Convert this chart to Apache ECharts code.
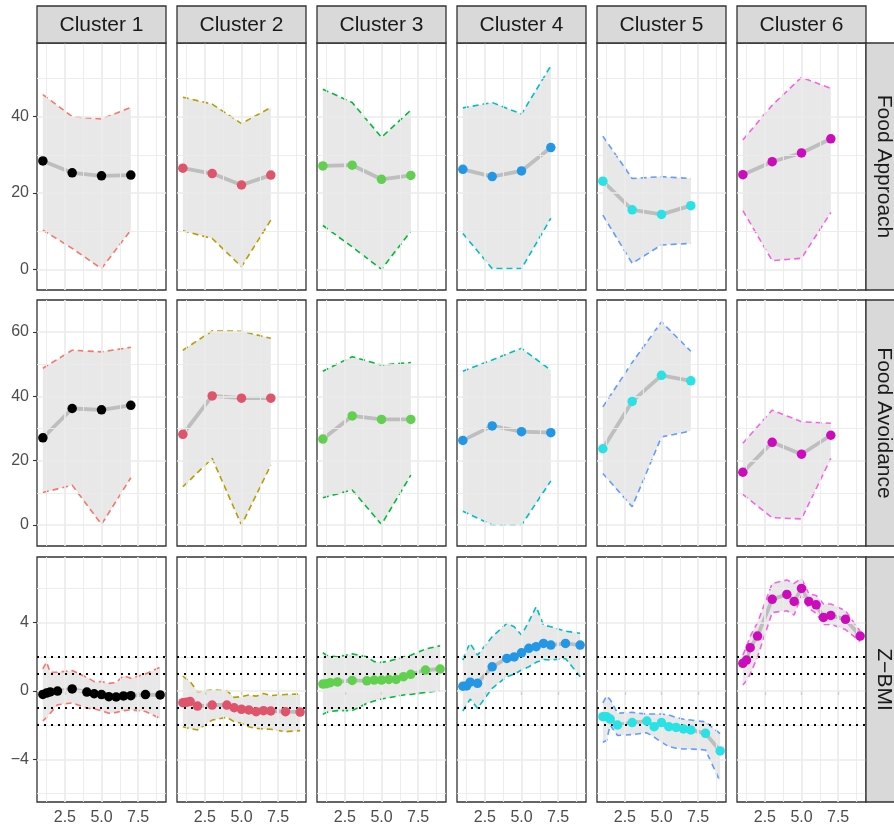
<!DOCTYPE html>
<html>
<head>
<meta charset="utf-8">
<script src="https://cdn.jsdelivr.net/npm/echarts@6/dist/echarts.min.js"></script>
<style>
html,body{margin:0;padding:0;background:#fff;}
#chart{width:894px;height:829px;}
</style>
</head>
<body>
<div id="chart"></div>
<script>
// ---------- data ----------
const clusters = ['Cluster 1','Cluster 2','Cluster 3','Cluster 4','Cluster 5','Cluster 6'];
const rowNames = ['Food Approach','Food Avoidance','Z\u2212BMI'];
const xWave = [1,3,5,7];
const xBmi = [1,1.25,1.5,2,3,4,4.5,5,5.5,6,6.5,7,8,9];

const faMean  = [[28.4,25.3,24.5,24.7],[26.5,25.1,22.1,24.7],[27.1,27.3,23.6,24.6],[26.2,24.3,25.8,31.9],[23.1,15.6,14.4,16.7],[24.8,28.2,30.5,34.2]];
const faUpper = [[45.8,40.0,39.4,42.4],[45.1,43.3,38.2,42.4],[47.2,43.7,34.6,41.7],[42.3,43.7,40.7,53.3],[34.9,23.8,24.3,23.8],[33.9,43.0,50.3,47.4]];
const faLower = [[10.3,5.5,0.2,10.3],[10.1,8.1,0.7,12.9],[11.5,5.9,0.0,10.0],[9.4,0.2,0.2,13.4],[14.2,1.6,6.4,6.8],[15.4,2.3,2.9,14.9]];

const favMean  = [[27.1,36.2,35.8,37.2],[28.2,40.1,39.4,39.4],[26.7,33.9,32.8,32.8],[26.3,30.8,29.0,28.7],[23.7,38.4,46.5,44.8],[16.4,25.7,22.0,27.9]];
const favUpper = [[48.7,54.3,53.8,55.2],[54.3,60.3,60.2,58.0],[47.8,52.3,49.7,50.5],[47.8,51.3,54.9,48.1],[36.7,50.5,63.1,54.0],[25.4,35.7,32.1,31.6]];
const favLower = [[10.1,12.4,0.2,14.7],[11.9,20.7,0,18.6],[8.5,10.9,0.2,15.5],[4.3,0,0,13.7],[16.0,5.7,27.4,29.2],[9.5,2.3,1.9,20.7]];

const bmiMean = [
  [-0.2,-0.12,-0.05,0.0,0.12,-0.06,-0.16,-0.21,-0.33,-0.35,-0.29,-0.27,-0.21,-0.23],
  [-0.68,-0.66,-0.62,-0.88,-0.82,-0.82,-0.98,-1.07,-1.11,-1.21,-1.15,-1.17,-1.21,-1.23],
  [0.41,0.43,0.49,0.53,0.62,0.6,0.64,0.64,0.68,0.68,0.84,0.98,1.23,1.29],
  [0.28,0.3,0.52,0.45,1.42,1.91,2.0,2.24,2.5,2.6,2.79,2.69,2.79,2.69],
  [-1.5,-1.5,-1.64,-1.99,-1.85,-1.76,-2.09,-1.85,-2.09,-2.13,-2.22,-2.28,-2.48,-3.51],
  [1.62,1.81,2.54,3.22,5.37,5.66,5.25,6.01,5.25,5.05,4.31,4.43,4.2,3.22]
];
const bmiUpper = [
  [1.3,1.7,1.1,1.1,1.2,0.8,0.55,0.55,0.45,0.5,0.9,0.75,1.0,1.4],
  [0.88,0.7,0.55,-0.04,0.06,0.02,-0.37,-0.33,-0.23,-0.3,-0.14,-0.27,-0.2,-0.18],
  [2.24,2.1,2.05,2.0,2.18,2.0,1.72,1.68,1.75,1.87,2.0,2.1,2.46,2.65],
  [1.81,2.4,2.79,2.1,3.18,3.96,3.77,3.28,4.06,4.94,3.86,3.77,3.51,3.38],
  [-0.7,-0.3,-0.5,-1.3,-1.25,-1.35,-1.35,-1.35,-1.4,-1.55,-1.65,-1.7,-1.8,-2.5],
  [2.1,2.6,3.2,4.0,6.3,6.5,6.3,6.6,5.7,5.6,5.1,5.1,4.7,3.5]
];
const bmiLower = [
  [-1.75,-1.55,-1.3,-0.8,-0.7,-1.0,-1.05,-1.15,-1.3,-1.25,-1.15,-1.1,-1.2,-1.6],
  [-2.09,-2.15,-2.2,-2.28,-1.7,-1.54,-1.8,-1.89,-2.09,-2.19,-2.22,-2.24,-2.38,-2.32],
  [-1.37,-1.25,-1.2,-1.15,-1.15,-0.72,-0.59,-0.47,-0.39,-0.31,-0.23,-0.2,-0.08,0.02],
  [-1.17,-0.82,-0.47,-1.01,0.16,0.84,0.98,1.23,1.42,1.68,1.85,1.81,1.91,0.84],
  [-3.0,-2.9,-2.0,-2.6,-2.55,-2.45,-2.7,-3.0,-3.25,-3.35,-3.4,-3.4,-3.45,-5.3],
  [0.35,0.6,1.0,2.0,4.6,4.7,4.45,5.6,4.85,4.55,3.9,3.9,3.6,2.9]
];

const refLines = [2,1,-1,-2];
const dotColors  = ['#000000','#DF536B','#61D04F','#2297E6','#28E2E5','#CD0BBC'];
const bandColors = ['#F8766D','#B79F00','#00BA38','#00BFC4','#619CFF','#F564E3'];

const xRange = [0.6, 9.4];
const xTicks = [2.5, 5, 7.5];
const xMinor = [1.25, 3.75, 6.25, 8.75];
const yRanges = [[-5.4, 59.3],[-6.5, 69.9],[-6.5, 7.85]];
const yTicks  = [[0,20,40],[0,20,40,60],[-4,0,4]];
const yMinor  = [[10,30,50],[10,30,50],[-6,-2,2,6]];

// ---------- layout ----------
const colLeft = [37,177,317,457,597,737];
const colW = 129;
const rowTop = [43,300,557];
const rowH = [247,246,245];
const FONT = "'Liberation Sans', Arial, Helvetica, sans-serif";

const rowData = [
  {x: xWave, mean: faMean, up: faUpper, lo: faLower},
  {x: xWave, mean: favMean, up: favUpper, lo: favLower},
  {x: xBmi,  mean: bmiMean, up: bmiUpper, lo: bmiLower}
];

const grids = [], xAxes = [], yAxes = [], series = [], graphics = [];
const fmt = v => (v < 0 ? '\u2212' + Math.abs(v) : String(v));

for (let r = 0; r < 3; r++) {
  for (let c = 0; c < 6; c++) {
    const g = r * 6 + c;
    grids.push({left: colLeft[c], top: rowTop[r], width: colW, height: rowH[r],
      show: true, backgroundColor: '#fff', borderColor: '#333333', borderWidth: 1.3, containLabel: false});
    xAxes.push({type: 'value', gridIndex: g, min: xRange[0], max: xRange[1],
      axisLine: {show: false}, splitLine: {show: false},
      axisTick: {show: r === 2, customValues: xTicks, length: 4, lineStyle: {color: '#333333', width: 1.1}},
      axisLabel: {show: r === 2, customValues: xTicks, margin: 8, color: '#4D4D4D', fontSize: 16, fontFamily: FONT,
        formatter: v => v.toFixed(1)}});
    yAxes.push({type: 'value', gridIndex: g, min: yRanges[r][0], max: yRanges[r][1],
      axisLine: {show: false}, splitLine: {show: false},
      axisTick: {show: c === 0, customValues: yTicks[r], length: 4, lineStyle: {color: '#333333', width: 1.1}},
      axisLabel: {show: c === 0, customValues: yTicks[r], margin: 8, color: '#4D4D4D', fontSize: 16, fontFamily: FONT,
        formatter: fmt}});

    // grid lines (through the axis scales)
    const gl = [];
    xMinor.forEach(v => gl.push({xAxis: v, lineStyle: {color: '#EBEBEB', width: 0.9, type: 'solid'}}));
    xTicks.forEach(v => gl.push({xAxis: v, lineStyle: {color: '#EBEBEB', width: 1.7, type: 'solid'}}));
    yMinor[r].forEach(v => gl.push({yAxis: v, lineStyle: {color: '#EBEBEB', width: 0.9, type: 'solid'}}));
    yTicks[r].forEach(v => gl.push({yAxis: v, lineStyle: {color: '#EBEBEB', width: 1.7, type: 'solid'}}));
    series.push({type: 'line', xAxisIndex: g, yAxisIndex: g, data: [], z: 0, silent: true,
      markLine: {silent: true, symbol: 'none', label: {show: false}, animation: false, data: gl}});

    const d = rowData[r];
    const xs = d.x, up = d.up[c], lo = d.lo[c], mean = d.mean[c];

    // ribbon
    series.push({type: 'custom', xAxisIndex: g, yAxisIndex: g, z: 1, silent: true,
      data: [[xs[0], mean[0]]],
      renderItem: (params, api) => {
        const pts = [];
        for (let i = 0; i < xs.length; i++) pts.push(api.coord([xs[i], up[i]]));
        for (let i = xs.length - 1; i >= 0; i--) pts.push(api.coord([xs[i], lo[i]]));
        return {type: 'polygon', shape: {points: pts}, style: {fill: 'rgba(140,140,140,0.2)'}};
      }});

    // reference dotted lines (Z-BMI)
    if (r === 2) {
      series.push({type: 'line', xAxisIndex: g, yAxisIndex: g, data: [], z: 2, silent: true,
        markLine: {silent: true, symbol: 'none', label: {show: false}, animation: false,
          lineStyle: {color: '#000', width: 2, type: [2, 5]},
          data: refLines.map(v => ({yAxis: v}))}});
    }

    // dashed bounds
    [up, lo].forEach(arr => {
      series.push({type: 'line', xAxisIndex: g, yAxisIndex: g, z: 3, silent: true, showSymbol: false,
        data: xs.map((x, i) => [x, arr[i]]),
        lineStyle: {color: bandColors[c], width: 1.6, type: [6, 4]}});
    });

    // mean trajectory
    series.push({type: 'line', xAxisIndex: g, yAxisIndex: g, z: 4, silent: true, showSymbol: false,
      data: xs.map((x, i) => [x, mean[i]]),
      lineStyle: {color: '#BEBEBE', width: 3.8}});
    series.push({type: 'scatter', xAxisIndex: g, yAxisIndex: g, z: 5, silent: true,
      data: xs.map((x, i) => [x, mean[i]]), symbolSize: 9.5,
      itemStyle: {color: dotColors[c], opacity: 1}});
  }
}

// strips
for (let c = 0; c < 6; c++) {
  graphics.push({type: 'rect', shape: {x: colLeft[c], y: 6, width: colW, height: 37},
    style: {fill: '#D9D9D9', stroke: '#333333', lineWidth: 1.3}, z: 10});
  graphics.push({type: 'text', x: colLeft[c] + colW / 2, y: 6 + 37 / 2 + 1,
    style: {text: clusters[c], fill: '#1A1A1A', font: '21px ' + FONT, align: 'center', verticalAlign: 'middle'}, z: 11});
}
for (let r = 0; r < 3; r++) {
  graphics.push({type: 'rect', shape: {x: 866, y: rowTop[r], width: 37, height: rowH[r]},
    style: {fill: '#D9D9D9', stroke: '#333333', lineWidth: 1.3}, z: 10});
  graphics.push({type: 'text', x: 866 + 37 / 2 - 1, y: rowTop[r] + rowH[r] / 2, rotation: -Math.PI / 2,
    style: {text: rowNames[r], fill: '#1A1A1A', font: '21px ' + FONT, align: 'center', verticalAlign: 'middle'}, z: 11});
}

const chart = echarts.init(document.getElementById('chart'), null, {renderer: 'canvas'});
chart.setOption({
  animation: false,
  backgroundColor: '#ffffff',
  grid: grids, xAxis: xAxes, yAxis: yAxes, series: series, graphic: graphics
});
</script>
</body>
</html>
